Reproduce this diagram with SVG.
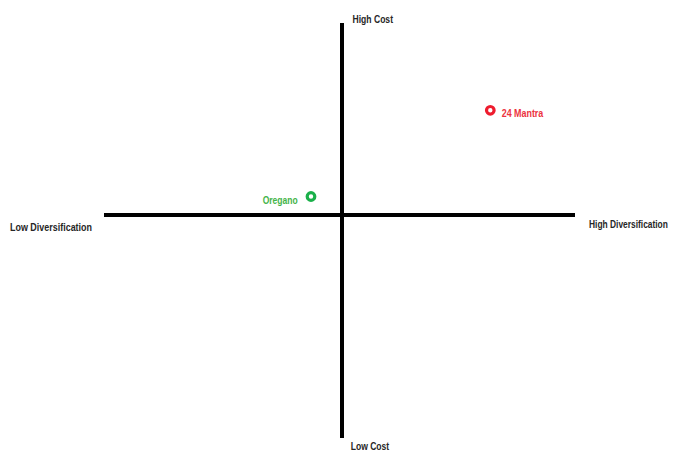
<svg xmlns="http://www.w3.org/2000/svg" width="675" height="452" viewBox="0 0 675 452">
<style>
.lbl{font-family:"Liberation Sans",Arial,sans-serif;font-weight:bold;font-size:11.5px;fill:#262626}
.axis{stroke:#000;stroke-width:4;fill:none}
</style>
<rect width="675" height="452" fill="#fff"/>
<g id="connectors">
<line class="axis" x1="342" y1="23" x2="342" y2="438"/>
<line class="axis" x1="104" y1="215" x2="575" y2="215"/>
</g>
<g id="high-cost"><text class="lbl" x="352.5" y="22.5" textLength="40.5" lengthAdjust="spacingAndGlyphs">High Cost</text></g>
<g id="low-cost"><text class="lbl" x="350.7" y="449.5" textLength="38.5" lengthAdjust="spacingAndGlyphs">Low Cost</text></g>
<g id="low-div"><text class="lbl" x="10" y="231" textLength="82" lengthAdjust="spacingAndGlyphs">Low Diversification</text></g>
<g id="high-div"><text class="lbl" transform="translate(589,227.5) scale(0.731,1)" x="0" y="0">High Diversification</text></g>
<g id="mantra">
<circle cx="490.3" cy="110.3" r="3.8" fill="none" stroke="#ee1c2e" stroke-width="3.2"/>
<text class="lbl" x="501.7" y="117" textLength="41.6" lengthAdjust="spacingAndGlyphs" style="fill:#ec3340">24 Mantra</text>
</g>
<g id="oregano">
<circle cx="311" cy="196.5" r="3.8" fill="none" stroke="#1bb04a" stroke-width="3.2"/>
<text class="lbl" x="262.7" y="204" textLength="35" lengthAdjust="spacingAndGlyphs" style="fill:#44b449">Oregano</text>
</g>
</svg>
